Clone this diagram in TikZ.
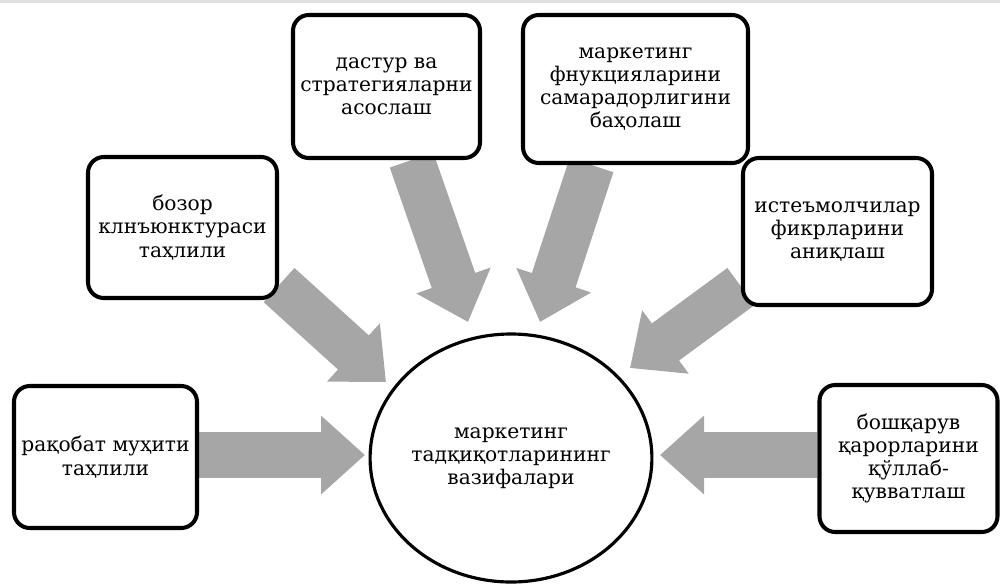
\documentclass[tikz,border=0pt]{standalone}
\usepackage{fontspec}
\setmainfont{DejaVu Serif}
\usetikzlibrary{arrows.meta,shapes.geometric,calc,backgrounds}
\definecolor{arrowgray}{HTML}{A6A6A6}
\newcommand{\pxu}{*0.2mm}
\tikzset{
  task/.style={draw=black, line width=2.3pt, rounded corners=9pt, fill=white,
    align=center, font=\fontsize{11.5}{13.2}\selectfont, inner sep=0pt},
  hub/.style={ellipse, draw=black, line width=1.8pt, fill=white, inner sep=0pt,
    minimum width=270\pxu, minimum height=248\pxu, align=center,
    font=\fontsize{11.5}{13.2}\selectfont},
  blockarrow/.style={draw=arrowgray, line width=46\pxu,
    -{Triangle[width=76\pxu, length=44\pxu]}},
}
\begin{document}
\begin{tikzpicture}[x=0.2mm, y=-0.2mm]
\useasboundingbox (0,0) rectangle (1000,586);
\fill[black!12] (0,0) rectangle (1000,2.5);

% task boxes
\node[task, minimum width=183\pxu, minimum height=142\pxu] (b1) at (105.5,457)
  {рақобат муҳити\\таҳлили};
\node[task, minimum width=189\pxu, minimum height=141\pxu] (b2) at (182.5,227.5)
  {бозор\\клнъюнктураси\\таҳлили};
\node[task, minimum width=187\pxu, minimum height=143\pxu] (b3) at (386.5,86.5)
  {дастур ва\\стратегияларни\\асослаш};
\node[task, minimum width=225\pxu, minimum height=148\pxu] (b4) at (635.5,89)
  {маркетинг\\фнукцияларини\\самарадорлигини\\баҳолаш};
\node[task, minimum width=189\pxu, minimum height=147\pxu] (b5) at (837.5,231.5)
  {истеъмолчилар\\фикрларини\\аниқлаш};
\node[task, minimum width=178\pxu, minimum height=147\pxu] (b6) at (908.5,458.5)
  {бошқарув\\қарорларини\\қўллаб-\\қувватлаш};

% central topic
\node[hub] (hub) at (511,458)
  {маркетинг\\тадқиқотларининг\\вазифалари};

% arrow tips in front of the central topic
\coordinate (tip1) at (365,455);
\coordinate (tip2) at (386,382);
\coordinate (tip3) at (468,322);
\coordinate (tip4) at (540,322);
\coordinate (tip5) at (630,368);
\coordinate (tip6) at (660,455);

\begin{scope}[on background layer]
  \draw[blockarrow] (b1.east |- tip1) -- (tip1);
  \draw[blockarrow] ($(b2.south east)+(0,-15)$) -- (tip2);
  \draw[blockarrow] ($(b3.south)+(25,0)$) -- (tip3);
  \draw[blockarrow] ($(b4.south)+(-44,0)$) -- (tip4);
  \draw[blockarrow] ($(b5.west)+(0,55)$) -- (tip5);
  \draw[blockarrow] (b6.west |- tip6) -- (tip6);
\end{scope}
\end{tikzpicture}
\end{document}
